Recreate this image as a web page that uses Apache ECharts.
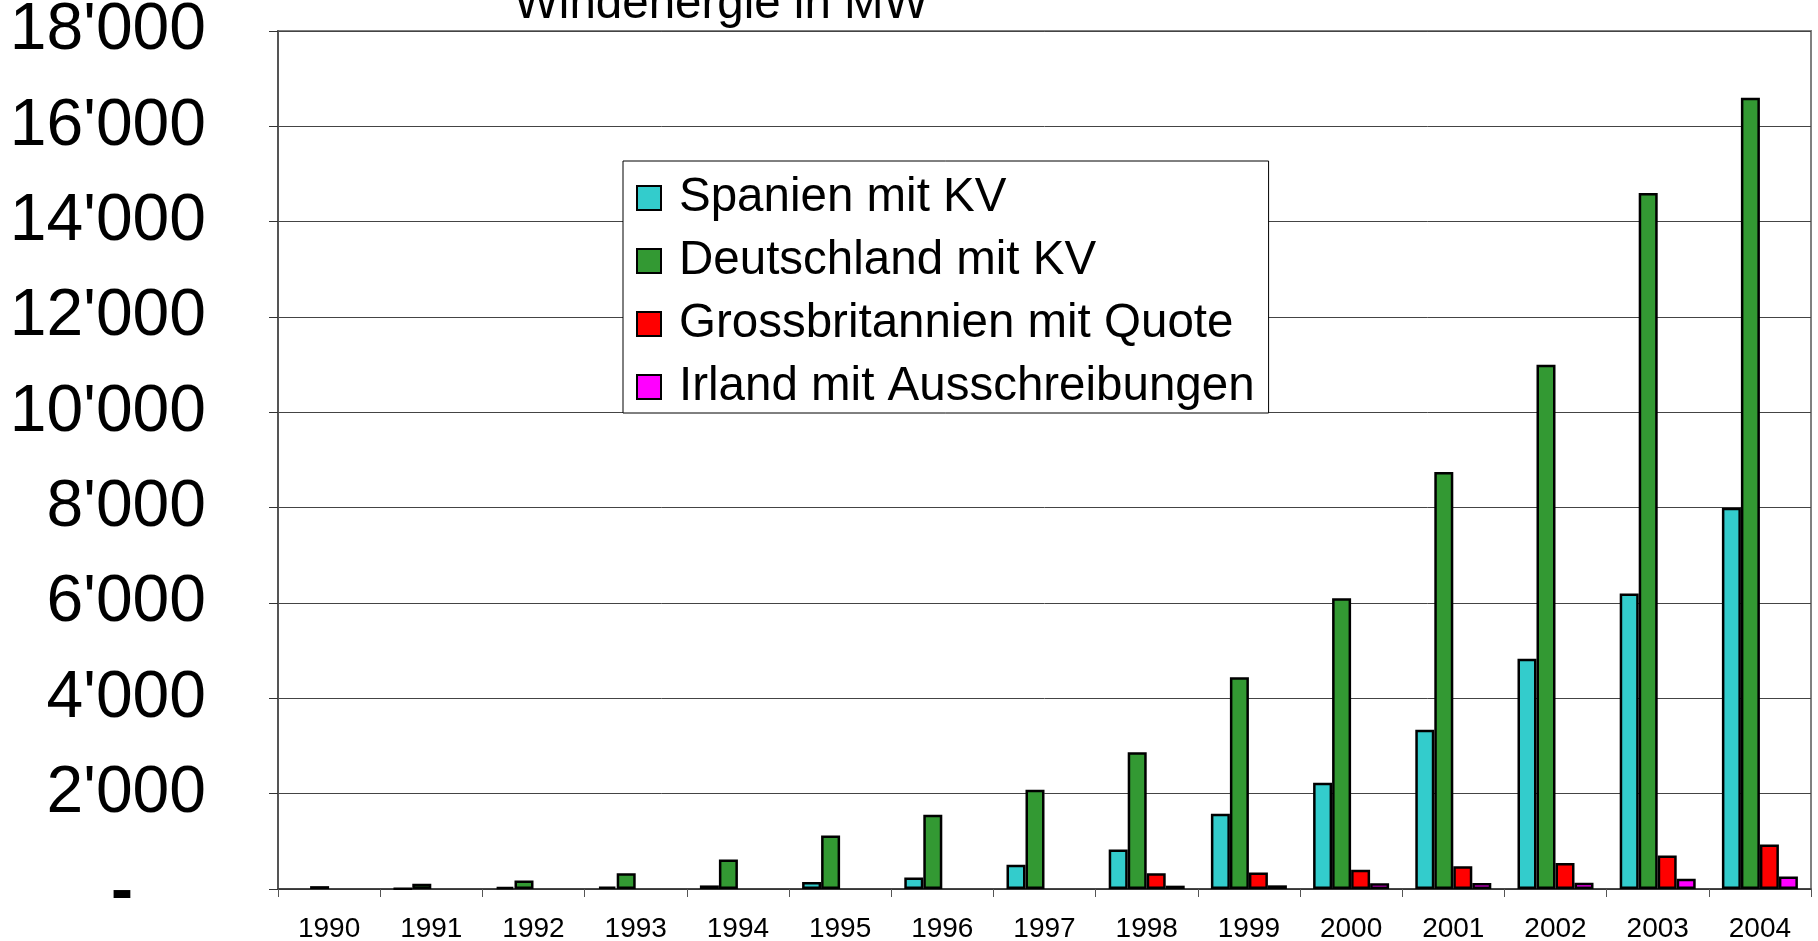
<!DOCTYPE html>
<html>
<head>
<meta charset="utf-8">
<script src="https://cdn.jsdelivr.net/npm/echarts@6/dist/echarts.min.js"></script>
<style>
html,body{margin:0;padding:0;background:#fff;}
#c{width:1818px;height:941px;}
</style>
</head>
<body>
<div id="c"></div>
<script>
var titleText = 'Windenergie in MW';
var years = ['1990','1991','1992','1993','1994','1995','1996','1997','1998','1999','2000','2001','2002','2003','2004'];
var seriesNames = ['Spanien mit KV','Deutschland mit KV','Grossbritannien mit Quote','Irland mit Ausschreibungen'];
var spanien = [null, 7, 46, 52, 75, 145, 240, 510, 830, 1580, 2230, 3340, 4830, 6200, 8000];
var deutschland = [60, 110, 180, 330, 620, 1120, 1560, 2080, 2870, 4440, 6100, 8750, 11000, 14600, 16600];
var grossbritannien = [null, null, null, null, null, null, null, null, 330, 345, 405, 475, 545, 705, 935];
var irland = [null, null, null, null, null, null, null, null, 70, 77, 119, 126, 133, 217, 260];
var colors = ['#33CCCC', '#339933', '#FF0000', '#FF00FF'];
var dataSets = [spanien, deutschland, grossbritannien, irland];

var FONT = "'Liberation Sans', Arial, sans-serif";

function fmt(v) {
  if (v === 0) return '{d|-}';
  return String(v).replace(/\B(?=(\d{3})+(?!\d))/g, "'");
}

var chart = echarts.init(document.getElementById('c'), null, {renderer: 'canvas'});
chart.setOption({
  animation: false,
  backgroundColor: '#fff',
  title: {
    text: titleText,
    left: 514,
    top: -19,
    padding: 0,
    textStyle: {fontFamily: FONT, fontSize: 47.5, fontWeight: 'normal', color: '#000'}
  },
  legend: {
    orient: 'vertical',
    left: 623,
    top: 161,
    padding: [12, 14, 1, 13],
    itemWidth: 24,
    itemHeight: 24,
    itemGap: 13,
    backgroundColor: '#fff',
    borderColor: '#000',
    borderWidth: 1,
    icon: 'rect',
    textStyle: {fontFamily: FONT, fontSize: 47.5, color: '#000', lineHeight: 50, padding: [0, 0, 0, 13]},
    data: seriesNames
  },
  grid: {
    left: 278, right: 7, top: 31, bottom: 52,
    outerBoundsMode: 'none',
    containLabel: false,
    show: true, borderColor: '#808080', borderWidth: 2, backgroundColor: 'transparent'
  },
  xAxis: {
    type: 'category',
    data: years,
    axisLine: {lineStyle: {color: '#333', width: 1.5}},
    axisTick: {show: true, length: 8, lineStyle: {color: '#555', width: 1}},
    axisLabel: {fontFamily: FONT, fontSize: 28, color: '#000', margin: 26}
  },
  yAxis: {
    type: 'value',
    min: 0, max: 18000, interval: 2000,
    axisLine: {show: true, lineStyle: {color: '#555', width: 2}},
    axisTick: {show: true, length: 9, lineStyle: {color: '#333', width: 1}},
    splitLine: {lineStyle: {color: '#444', width: 1}},
    axisLabel: {
      fontFamily: FONT, fontSize: 66, color: '#000', margin: 72,
      formatter: fmt,
      rich: {d: {fontFamily: FONT, fontSize: 66, fontWeight: 'bold', color: '#000', padding: [8, 73, 0, 0]}}
    }
  },
  series: seriesNames.map(function (n, i) {
    return {
      name: n,
      type: 'bar',
      data: dataSets[i],
      barWidth: 19,
      barGap: '0%',
      itemStyle: {color: colors[i], borderColor: '#000', borderWidth: 2.5}
    };
  })
});
</script>
</body>
</html>
